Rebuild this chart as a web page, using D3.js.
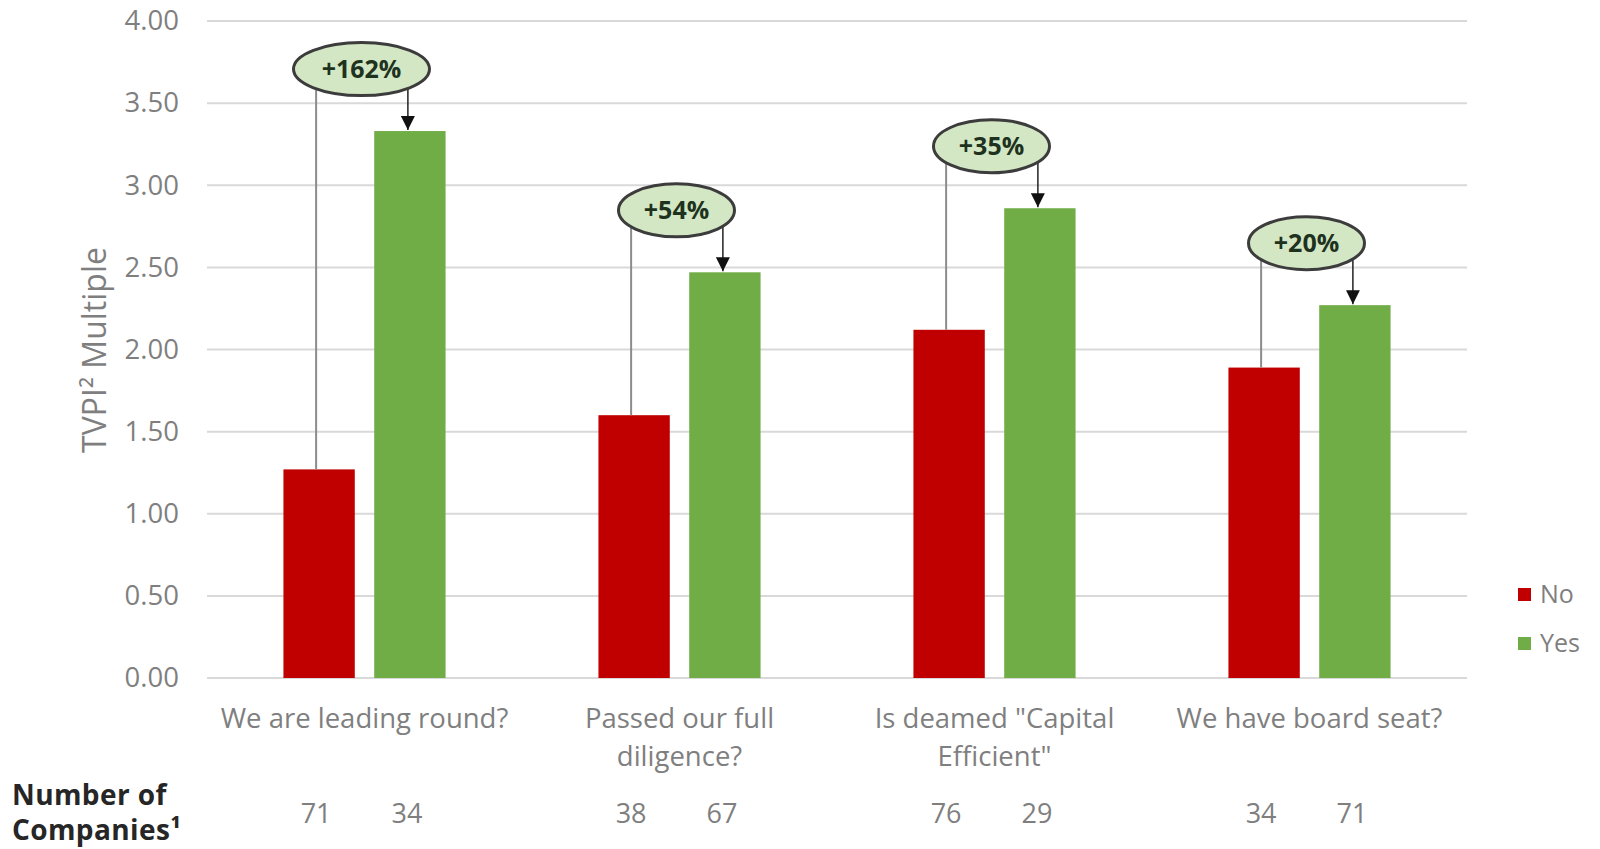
<!DOCTYPE html>
<html><head><meta charset="utf-8">
<script src="https://cdn.jsdelivr.net/npm/d3@7"></script>
<style>
html,body{margin:0;padding:0;background:#fff;}
svg{display:block;font-family:"Open Sans",sans-serif;}
</style></head>
<body><svg id="chart" width="1600" height="849"></svg>
<script>
const categories = [["We are leading round?"], ["Passed our full", "diligence?"], ["Is deamed \"Capital", "Efficient\""], ["We have board seat?"]];
const seriesNames = ["No", "Yes"];
const noValues = [1.27, 1.60, 2.12, 1.89];
const yesValues = [3.33, 2.47, 2.86, 2.27];
const noCounts = [71, 38, 76, 34];
const yesCounts = [34, 67, 29, 71];
const uplift = ["+162%", "+54%", "+35%", "+20%"];
const yTicks = [0, 0.5, 1, 1.5, 2, 2.5, 3, 3.5, 4];
const colors = {No: "#c00000", Yes: "#70ad47"};

(function () {
const svg = d3.select("#chart");
const pLeft = 207, pRight = 1467, pTop = 21, pBottom = 678;
const y = d3.scaleLinear().domain([0, 4]).range([pBottom, pTop]);
const x0 = d3.scaleBand().domain(d3.range(categories.length)).range([pLeft, pRight]).padding(0);
const x1 = d3.scaleBand().domain(seriesNames).range([0, x0.bandwidth()]).paddingInner(0.214).paddingOuter(0.842);

// gridlines
svg.append("g").selectAll("line").data(yTicks).join("line")
  .attr("x1", pLeft).attr("x2", pRight)
  .attr("y1", d => y(d)).attr("y2", d => y(d))
  .attr("stroke", "#d9d9d9").attr("stroke-width", 2);

// y axis labels
const yAxis = d3.axisLeft(y).tickValues(yTicks).tickFormat(d3.format(".2f")).tickSize(0).tickPadding(0);
const gy = svg.append("g").attr("transform", `translate(179,0)`).call(yAxis);
gy.select(".domain").remove();
gy.selectAll("text").attr("fill", "#7f7f7f").style("font-size", "27.5px").style("font-family", "Open Sans");

// y title
svg.append("text").attr("transform", "translate(106,350) rotate(-90)")
  .attr("text-anchor", "middle").attr("fill", "#7f7f7f").style("font-size", "32px")
  .text("TVPI² Multiple");

// bars
const rows = categories.map((c, i) => ({i, No: noValues[i], Yes: yesValues[i]}));
const groups = svg.append("g").selectAll("g").data(rows).join("g")
  .attr("transform", d => `translate(${x0(d.i)},0)`);
groups.selectAll("rect").data(d => seriesNames.map(s => ({s, v: d[s]}))).join("rect")
  .attr("x", d => x1(d.s)).attr("width", x1.bandwidth())
  .attr("y", d => y(d.v)).attr("height", d => y(0) - y(d.v))
  .attr("fill", d => colors[d.s]);

// annotations
svg.append("defs").append("marker").attr("id", "arr").attr("viewBox", "0 0 10 10")
  .attr("refX", 10).attr("refY", 5).attr("markerWidth", 14).attr("markerHeight", 14)
  .attr("markerUnits", "userSpaceOnUse").attr("orient", "auto")
  .append("path").attr("d", "M0,0 L10,5 L0,10 Z").attr("fill", "#111");

const ann = svg.append("g");
rows.forEach(d => {
  const cx = x0(d.i) + x0.bandwidth() / 2 - 3;
  const cy = y(d.Yes) - 62;
  const xNo = x0(d.i) + x1("No") + x1.bandwidth() / 2 - 3;
  const xYes = x0(d.i) + x1("Yes") + x1.bandwidth() / 2 - 2;
  const rx = uplift[d.i].length > 4 ? 68 : 58;
  ann.append("line").attr("x1", xNo).attr("x2", xNo).attr("y1", cy).attr("y2", y(d.No))
    .attr("stroke", "#8c8c8c").attr("stroke-width", 2);
  ann.append("line").attr("x1", xYes).attr("x2", xYes).attr("y1", cy).attr("y2", y(d.Yes) - 1)
    .attr("stroke", "#222").attr("stroke-width", 1.5).attr("marker-end", "url(#arr)");
  ann.append("ellipse").attr("cx", cx).attr("cy", cy).attr("rx", rx).attr("ry", 26.5)
    .attr("fill", "#d3e7c5").attr("stroke", "#3c3c3c").attr("stroke-width", 3);
  ann.append("text").attr("x", cx).attr("y", cy).attr("dy", "0.35em").attr("text-anchor", "middle")
    .attr("fill", "#1e321e").style("font-size", "25px").style("font-weight", "bold")
    .text(uplift[d.i]);
});

// category labels
const cat = svg.append("g");
categories.forEach((lines, i) => {
  const t = cat.append("text").attr("x", x0(i) + x0.bandwidth() / 2).attr("y", 728)
    .attr("text-anchor", "middle").attr("fill", "#7f7f7f").style("font-size", "27.5px");
  lines.forEach((l, j) => t.append("tspan").attr("x", x0(i) + x0.bandwidth() / 2).attr("dy", j ? 38 : 0).text(l));
});

// counts
const cnt = svg.append("g");
rows.forEach(d => {
  [["No", noCounts[d.i]], ["Yes", yesCounts[d.i]]].forEach(([s, v]) => {
    cnt.append("text").attr("x", x0(d.i) + x1(s) + x1.bandwidth() / 2 - 3).attr("y", 823)
      .attr("text-anchor", "middle").attr("fill", "#7f7f7f").style("font-size", "27px").text(v);
  });
});
const nc = svg.append("text").attr("x", 12).attr("y", 805).attr("fill", "#262626")
  .style("font-size", "28px").style("font-weight", "bold").style("letter-spacing", "0.4px");
nc.append("tspan").attr("x", 12).text("Number of");
nc.append("tspan").attr("x", 12).attr("dy", 35).text("Companies¹");

// legend
const lg = svg.append("g").attr("transform", "translate(1518,588)");
seriesNames.forEach((s, i) => {
  lg.append("rect").attr("x", 0).attr("y", i * 49).attr("width", 13).attr("height", 13).attr("fill", colors[s]);
  lg.append("text").attr("x", 22).attr("y", i * 49 + 6.5).attr("dy", "0.35em").attr("fill", "#7f7f7f")
    .style("font-size", "25px").text(s);
});
})();
</script></body></html>
